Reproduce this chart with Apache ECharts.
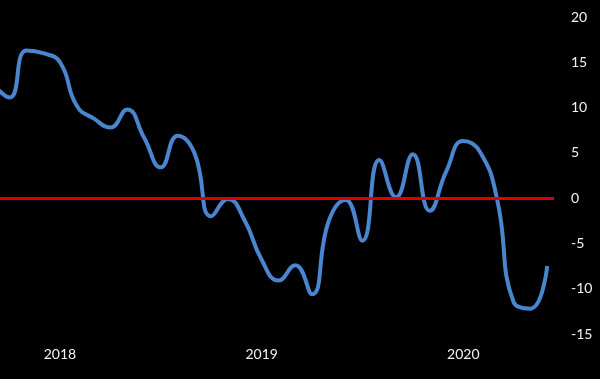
<!DOCTYPE html>
<html>
<head>
<meta charset="utf-8">
<script src="https://cdn.jsdelivr.net/npm/echarts@6/dist/echarts.min.js"></script>
<style>
html, body { margin: 0; padding: 0; background: #000; }
#chart { width: 600px; height: 379px; }
</style>
</head>
<body>
<div id="chart"></div>
<script>
// monthly readings
var months = ['2017-09', '2017-10', '2017-11', '2017-12',
	'2018-01', '2018-02', '2018-03', '2018-04', '2018-05', '2018-06',
	'2018-07', '2018-08', '2018-09', '2018-10', '2018-11', '2018-12',
	'2019-01', '2019-02', '2019-03', '2019-04', '2019-05', '2019-06',
	'2019-07', '2019-08', '2019-09', '2019-10', '2019-11', '2019-12',
	'2020-01', '2020-02', '2020-03', '2020-04', '2020-05', '2020-06'];
var values = [12.6, 11.1, 16.3, 16.0,
	15.0, 10.2, 8.8, 7.8, 9.8, 6.7,
	3.4, 6.9, 5.0, -2.0, -0.1, -2.5,
	-6.8, -9.1, -7.4, -10.6, -2.5, -0.2,
	-4.7, 4.2, 0.1, 4.85, -1.4, 3.0,
	6.3, 5.1, 0.0, -11.5, -12.2, -7.5];
var yearLabels = ['2018', '2019', '2020'];
var yTicks = [-15, -10, -5, 0, 5, 10, 15, 20];

// month offset counted from Jan 2018
function monthIndex(s) {
	var p = s.split('-');
	return (parseInt(p[0], 10) - 2018) * 12 + parseInt(p[1], 10) - 1;
}

var seriesData = [];
for (var i = 0; i < months.length; i++) {
	seriesData.push([monthIndex(months[i]), values[i]]);
}
var yearPos = [];
for (var j = 0; j < yearLabels.length; j++) {
	yearPos.push(monthIndex(yearLabels[j] + '-01'));
}

var myChart = echarts.init(document.getElementById('chart'));
var option = {
	backgroundColor: '#000',
	animation: false,
	grid: {
		left: 0,
		right: 46,
		top: 17,
		bottom: 45
	},
	xAxis: {
		type: 'value',
		min: -3.57,
		max: 29.4,
		axisLine: { show: false },
		axisTick: { show: false },
		splitLine: { show: false },
		axisLabel: {
			customValues: yearPos,
			margin: 13,
			color: '#f2f2f2',
			fontFamily: 'Lato',
			fontSize: 14,
			formatter: function(v) {
				return yearLabels[yearPos.indexOf(v)];
			}
		}
	},
	yAxis: {
		type: 'value',
		position: 'right',
		min: yTicks[0],
		max: yTicks[yTicks.length - 1],
		interval: 5,
		axisLine: { show: false },
		axisTick: { show: false },
		splitLine: { show: false },
		axisLabel: {
			margin: 17,
			color: '#f2f2f2',
			fontFamily: 'Lato',
			fontSize: 14
		}
	},
	series: [{
		type: 'line',
		data: seriesData,
		smooth: 0.5,
		showSymbol: false,
		lineStyle: {
			color: '#4a86d0',
			width: 4
		},
		markLine: {
			silent: true,
			symbol: 'none',
			label: { show: false },
			lineStyle: {
				color: '#e00000',
				width: 3,
				type: 'solid'
			},
			data: [{ yAxis: 0 }]
		}
	}]
};
myChart.setOption(option);
</script>
</body>
</html>
